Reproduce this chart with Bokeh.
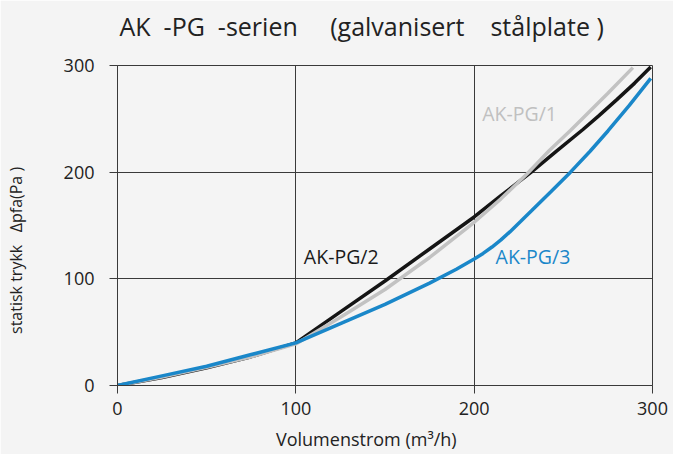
from bokeh.plotting import figure
from bokeh.models import Label, FixedTicker, Title
from bokeh.embed import file_html
from bokeh.resources import INLINE

# ---- data ----
x_pg1 = [0, 25, 50, 75, 100, 125, 150, 175, 200, 215, 230, 242, 254, 275, 289]
y_pg1 = [0, 8, 17, 27, 39, 64, 90, 120, 153, 175, 199, 220, 239, 274, 298]

x_pg2 = [0, 25, 50, 75, 100, 125, 150, 175, 200, 215, 232, 246, 261, 270, 280, 290, 299]
y_pg2 = [0, 7.5, 16.5, 27, 40, 69, 98, 128, 158, 178, 200, 219.5, 240, 253, 268, 283.5, 298.5]

x_pg3 = [0, 25, 50, 75, 100, 125, 150, 175, 190, 200, 205, 210, 215, 220, 226, 232,
         243, 254, 265, 275, 287, 299]
y_pg3 = [0, 9, 18, 29, 40, 58, 76, 96, 109, 118.5, 123.8, 129.8, 136.5, 144, 153.7, 163.5,
         181.6, 200, 219.6, 238.6, 262.6, 288]

ticks = [0, 100, 200, 300]

NB = "\u00a0"
title_text = "AK" + NB * 2 + "-PG" + NB * 2 + "-serien" + NB * 4 + " (galvanisert" + NB * 3 + " stålplate )"
xlabel_text = "Volumenstrom (m³/h)"
ylabel_text = "statisk trykk " + NB * 2 + "Δpfa(Pa )"

FONT = "Open Sans"
BG = "#f4f4f4"
TXT = "#222222"
GRID = "#3a3a3a"

p = figure(width=673, height=454, x_range=(0, 300), y_range=(0, 300),
           output_backend="svg", toolbar_location=None,
           min_border_left=117, min_border_right=21,
           min_border_top=65, min_border_bottom=69)
p.background_fill_color = BG
p.border_fill_color = BG
p.outline_line_color = GRID
p.outline_line_width = 1

for ax in (p.xaxis[0], p.yaxis[0]):
    ax.ticker = FixedTicker(ticks=ticks)
    ax.major_tick_out = 8
    ax.major_tick_in = 0
    ax.minor_tick_out = 0
    ax.minor_tick_in = 0
    ax.axis_line_color = GRID
    ax.major_tick_line_color = GRID
    ax.major_label_text_font = FONT
    ax.major_label_text_font_size = "18px"
    ax.major_label_text_color = TXT
    ax.axis_label_text_font = FONT
    ax.axis_label_text_font_style = "normal"
    ax.axis_label_text_color = TXT
p.xaxis.major_label_standoff = 8
p.yaxis.major_label_standoff = 15

# axis titles (trailing no-break spaces shift them off-centre like the original)
p.xaxis.axis_label = xlabel_text + NB * 8
p.xaxis.axis_label_text_font_size = "18px"
p.xaxis.axis_label_standoff = 9
p.yaxis.axis_label = ylabel_text + NB * 12
p.yaxis.axis_label_text_font_size = "16px"
p.yaxis.axis_label_standoff = 34

p.xgrid.ticker = FixedTicker(ticks=ticks)
p.ygrid.ticker = FixedTicker(ticks=ticks)
p.grid.grid_line_color = GRID
p.grid.grid_line_width = 1

p.line(x_pg2, y_pg2, line_color="#151515", line_width=3.5)
p.line(x_pg1, y_pg1, line_color="#c2c2c2", line_width=3.5)
p.line(x_pg3, y_pg3, line_color="#1a87c9", line_width=3.5)

def lab(x, y, text, color):
    p.add_layout(Label(x=x, y=y, text=text, text_color=color, text_font=FONT,
                       text_font_size="19.5px"))

lab(204.5, 242, "AK-PG/1", "#c0c0c0")
lab(104.5, 108, "AK-PG/2", "#1a1a1a")
lab(212, 108, "AK-PG/3", "#1a87c9")

# main title; an empty spacer title sits between it and the frame
p.title.text = title_text
p.title.align = "left"
p.title.offset = 2
p.title.text_font = FONT
p.title.text_font_size = "25px"
p.title.text_font_style = "normal"
p.title.text_color = TXT

spacer = Title(text=NB, text_font_size="6px", text_color=BG)
p.add_layout(spacer, "above")

open("out.html", "w").write(file_html(p, INLINE))
